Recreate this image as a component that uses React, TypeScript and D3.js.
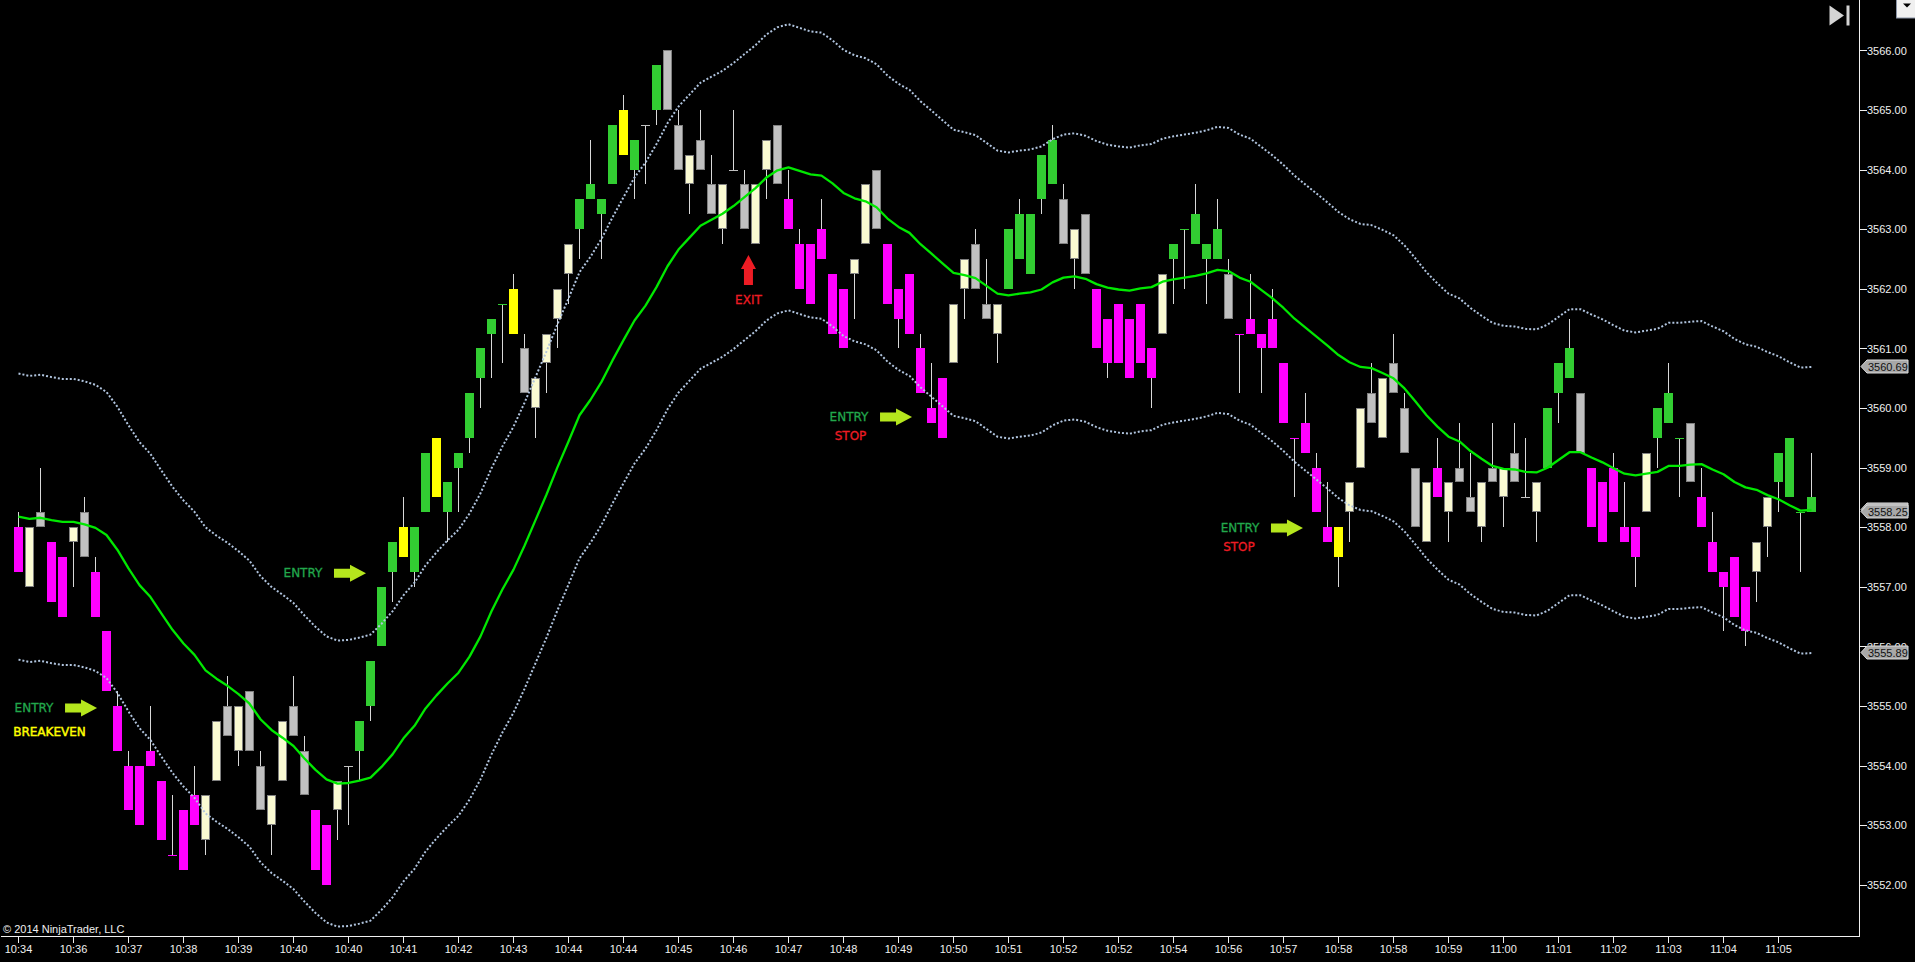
import React from "react";
import * as d3 from "d3";

const bodyTop = [
3558,3558,3558.25,3557.75,3557.5,3558,3558.25,3557.25,3556.25,3555,
3554,3554,3554.25,3553.75,3552.5,3553.25,3553.5,3553.5,3554.75,3555,
3555,3555.25,3554,3553.5,3554.75,3555,3554.25,3553.25,3553,3553.75,
3554,3554.75,3555.75,3557,3557.75,3558,3558,3559.25,3559.5,3558.75,
3559.25,3560.25,3561,3561.5,3561.75,3562,3561,3560.5,3561.25,3562,
3562.75,3563.5,3563.75,3563.5,3564.75,3565,3564.5,3564.75,3565.75,3566,
3564.75,3564.25,3564.5,3563.75,3563.75,3564,3563.75,3563.75,3564.5,3564.75,
3563.5,3562.75,3562.75,3563,3562.25,3562,3562.5,3563.75,3564,3562.75,
3562,3562.25,3561,3560,3560.5,3561.75,3562.5,3562.75,3561.75,3561.75,
3563,3563.25,3563.25,3564.25,3564.5,3563.5,3563,3563.25,3562,3561.5,
3561.75,3561.5,3561.75,3561,3562.25,3562.75,3563,3563.25,3562.75,3563,
3562.25,3561.25,3561.5,3561.25,3561.5,3560.75,3559.5,3559.75,3559,3558,
3558,3558.75,3560,3560.25,3560.5,3560.75,3560,3559,3558.75,3559,
3558.75,3559,3558.5,3558.75,3559,3559,3559.25,3558.5,3558.75,3560,
3560.75,3561,3560.25,3559,3558.75,3559,3558,3558,3559.25,3560,
3560.25,3559.5,3559.75,3558.5,3557.75,3557.25,3557.5,3557,3557.75,3558.5,
3559.25,3559.5,3558.25,3558.5];

const bodyBottom = [
3557.25,3557,3558,3556.75,3556.5,3557.75,3557.5,3556.5,3555.25,3554.25,
3553.25,3553,3554,3552.75,3552.5,3552.25,3553,3552.75,3553.75,3554.5,
3554.25,3554.25,3553.25,3553,3553.75,3554.5,3553.5,3552.25,3552,3553.25,
3554,3554.25,3555,3556,3557.25,3557.5,3557.25,3558.25,3558.5,3558.25,
3559,3559.5,3560.5,3561.25,3561.75,3561.25,3560.25,3560,3560.75,3561.5,
3562.25,3563,3563.5,3563.25,3563.75,3564.25,3564,3564.75,3565,3565,
3564,3563.75,3564,3563.25,3563,3564,3563,3562.75,3564,3563.75,
3563,3562,3561.75,3562.5,3561.25,3561,3562.25,3562.75,3563,3561.75,
3561.5,3561.25,3560.25,3559.75,3559.5,3560.75,3562,3562,3561.5,3561.25,
3562,3562.5,3562.25,3563.5,3563.75,3562.75,3562.5,3562.25,3561,3560.75,
3560.75,3560.5,3560.75,3560.5,3561.25,3562.5,3563,3562.75,3562.5,3562.5,
3561.5,3561.25,3561.25,3561,3561,3559.75,3559.5,3559.25,3558.25,3557.75,
3557.5,3558.25,3559,3559.75,3559.5,3560.25,3559.25,3558,3557.75,3558.5,
3558.25,3558.75,3558.25,3558,3558.75,3558.5,3558.75,3558.5,3558.25,3559,
3560.25,3560.5,3559.25,3558,3557.75,3558.25,3557.75,3557.5,3558.25,3559.5,
3559.75,3559.5,3558.75,3558,3557.25,3557,3556.5,3556.25,3557.25,3558,
3558.75,3558.5,3558.25,3558.25];

const wickHigh = [
3558.25,3558,3559,3557.75,3557.5,3558,3558.5,3557.5,3556.25,3555.25,
3554.25,3554,3555,3553.75,3553.5,3553.25,3554,3553.5,3554.75,3555.5,
3555,3555.25,3554.25,3553.5,3554.75,3555.5,3554.5,3553.25,3553,3553.75,
3554,3554.75,3555.75,3557,3557.75,3558.5,3558,3559.25,3559.5,3558.75,
3559.25,3560.25,3561,3561.5,3561.75,3562.25,3561.25,3560.5,3561.25,3562,
3562.75,3563.5,3564.5,3563.5,3564.75,3565.25,3564.5,3564.75,3565.75,3566,
3565,3564.25,3565,3564.25,3563.75,3565,3564,3563.75,3564.5,3564.75,
3564,3563,3562.75,3563.5,3562.25,3562,3562.5,3563.75,3564,3562.75,
3562,3562.25,3561.25,3560.75,3560.5,3561.75,3562.5,3563,3562.5,3561.75,
3563,3563.5,3563.25,3564.25,3564.75,3563.75,3563,3563.25,3562,3561.5,
3561.75,3561.5,3561.75,3561,3562.25,3562.75,3563,3563.75,3562.75,3563.5,
3562.5,3561.25,3562.25,3561.25,3562,3560.75,3559.5,3560.25,3559.25,3558.75,
3558,3558.75,3560,3560.75,3560.5,3561.25,3560.25,3559,3558.75,3559.5,
3558.75,3559.75,3559.25,3558.75,3559.75,3559,3559.75,3559.5,3558.75,3560,
3560.75,3561.5,3560.25,3559,3558.75,3559.25,3558.75,3558,3559.25,3560,
3560.75,3559.5,3559.75,3559,3558.25,3557.25,3557.5,3557,3557.75,3558.5,
3559.25,3559.5,3558.25,3559.25];

const wickLow = [
3557.25,3557,3558,3556.75,3556.5,3557,3557.5,3556.5,3555.25,3554.25,
3553.25,3553,3554,3552.75,3552.5,3552.25,3553,3552.5,3553.75,3554.5,
3554,3554.25,3553.25,3552.5,3553.75,3554.5,3553.5,3552.25,3552,3552.75,
3553,3553.75,3554.75,3556,3556.75,3557.5,3557,3558.25,3558.5,3557.75,
3558.25,3559.25,3560,3560.5,3560.75,3561.25,3560.25,3559.5,3560.25,3561,
3561.75,3562.5,3563.5,3562.5,3563.75,3564.25,3563.5,3563.75,3564.75,3565,
3564,3563.25,3564,3563.25,3562.75,3564,3563,3562.75,3563.5,3563.75,
3563,3562,3561.75,3562.5,3561.25,3561,3561.5,3562.75,3563,3561.75,
3561,3561.25,3560.25,3559.75,3559.5,3560.75,3561.5,3562,3561.5,3560.75,
3562,3562.5,3562.25,3563.25,3563.75,3562.75,3562,3562.25,3561,3560.5,
3560.75,3560.5,3560.75,3560,3561.25,3561.75,3562,3562.75,3561.75,3562.5,
3561.5,3560.25,3561.25,3560.25,3561,3559.75,3558.5,3559.25,3558.25,3557.75,
3557,3557.75,3559,3559.75,3559.5,3560.25,3559.25,3558,3557.75,3558.5,
3557.75,3558.75,3558.25,3557.75,3558.75,3558,3558.75,3558.5,3557.75,3559,
3559.75,3560.5,3559.25,3558,3557.75,3558.25,3557.75,3557,3558.25,3559,
3559.75,3558.5,3558.75,3558,3557.25,3556.25,3556.5,3556,3556.75,3557.5,
3558.25,3558.5,3557.25,3558.25];

// m magenta, c cream, g green, y yellow, s silver
const barKinds = [
"mcsmmcsmmm","mmmmmmmccs","cssccssmmc","sggggyggyg","gggggysccc",
"cggggygsgs","scsscssccs","mmmmmmccsm","mmmmmccssc","gggggscsmm",
"mmmmcggggg","smmmmmmmmm","yccscssscm","csscscsscg","ggsmmmmmcg",
"ggsmmmmmcc","gggg"].join("");

const midLine = [
3558.18,3558.14,3558.16,3558.12,3558.09,3558.09,3558.05,3557.99,3557.87,3557.62,
3557.31,3557.03,3556.83,3556.55,3556.28,3556.05,3555.86,3555.60,3555.46,3555.34,
3555.20,3555.04,3554.78,3554.60,3554.47,3554.33,3554.12,3553.93,3553.77,3553.70,
3553.71,3553.75,3553.80,3553.98,3554.19,3554.46,3554.67,3554.96,3555.18,3555.38,
3555.56,3555.83,3556.17,3556.59,3556.96,3557.29,3557.69,3558.12,3558.55,3559.01,
3559.44,3559.88,3560.14,3560.44,3560.80,3561.14,3561.47,3561.72,3562.03,3562.38,
3562.66,3562.86,3563.06,3563.16,3563.26,3563.39,3563.54,3563.69,3563.87,3563.99,
3564.04,3563.98,3563.92,3563.90,3563.77,3563.61,3563.52,3563.47,3563.37,3563.18,
3563.04,3562.94,3562.75,3562.59,3562.43,3562.27,3562.23,3562.18,3562.05,3561.92,
3561.89,3561.92,3561.94,3561.99,3562.11,3562.19,3562.21,3562.17,3562.08,3562.02,
3561.99,3561.97,3562.01,3562.03,3562.12,3562.16,3562.19,3562.22,3562.26,3562.32,
3562.30,3562.19,3562.12,3561.98,3561.84,3561.68,3561.50,3561.35,3561.20,3561.05,
3560.89,3560.77,3560.69,3560.67,3560.59,3560.50,3560.33,3560.11,3559.88,3559.69,
3559.52,3559.44,3559.28,3559.15,3559.03,3558.98,3558.97,3558.93,3558.92,3559.00,
3559.13,3559.26,3559.26,3559.17,3559.09,3558.99,3558.90,3558.87,3558.90,3558.93,
3559.03,3559.03,3559.05,3559.06,3558.97,3558.89,3558.76,3558.67,3558.63,3558.54,
3558.47,3558.37,3558.28,3558.29];

const upperBand = [
3560.58,3560.54,3560.56,3560.52,3560.49,3560.49,3560.45,3560.39,3560.27,3560.02,
3559.71,3559.43,3559.23,3558.95,3558.68,3558.45,3558.26,3558.00,3557.86,3557.74,
3557.60,3557.44,3557.18,3557.00,3556.87,3556.73,3556.52,3556.33,3556.17,3556.10,
3556.11,3556.15,3556.20,3556.38,3556.59,3556.86,3557.07,3557.36,3557.58,3557.78,
3557.96,3558.23,3558.57,3558.99,3559.36,3559.69,3560.09,3560.52,3560.95,3561.41,
3561.84,3562.28,3562.54,3562.84,3563.20,3563.54,3563.87,3564.12,3564.43,3564.78,
3565.06,3565.26,3565.46,3565.56,3565.66,3565.79,3565.94,3566.09,3566.27,3566.39,
3566.44,3566.38,3566.32,3566.30,3566.17,3566.01,3565.92,3565.87,3565.77,3565.58,
3565.44,3565.34,3565.15,3564.99,3564.83,3564.67,3564.63,3564.58,3564.45,3564.32,
3564.29,3564.32,3564.34,3564.39,3564.51,3564.59,3564.61,3564.57,3564.48,3564.42,
3564.39,3564.37,3564.41,3564.43,3564.52,3564.56,3564.59,3564.62,3564.66,3564.72,
3564.70,3564.59,3564.52,3564.38,3564.24,3564.08,3563.90,3563.75,3563.60,3563.45,
3563.29,3563.17,3563.09,3563.07,3562.99,3562.90,3562.73,3562.51,3562.28,3562.09,
3561.92,3561.84,3561.68,3561.55,3561.43,3561.38,3561.37,3561.33,3561.32,3561.40,
3561.53,3561.66,3561.66,3561.57,3561.49,3561.39,3561.30,3561.27,3561.30,3561.33,
3561.43,3561.43,3561.45,3561.46,3561.37,3561.29,3561.16,3561.07,3561.03,3560.94,
3560.87,3560.77,3560.68,3560.69];

const lowerBand = [
3555.78,3555.74,3555.76,3555.72,3555.69,3555.69,3555.65,3555.59,3555.47,3555.22,
3554.91,3554.63,3554.43,3554.15,3553.88,3553.65,3553.46,3553.20,3553.06,3552.94,
3552.80,3552.64,3552.38,3552.20,3552.07,3551.93,3551.72,3551.53,3551.37,3551.30,
3551.31,3551.35,3551.40,3551.58,3551.79,3552.06,3552.27,3552.56,3552.78,3552.98,
3553.16,3553.43,3553.77,3554.19,3554.56,3554.89,3555.29,3555.72,3556.15,3556.61,
3557.04,3557.48,3557.74,3558.04,3558.40,3558.74,3559.07,3559.32,3559.63,3559.98,
3560.26,3560.46,3560.66,3560.76,3560.86,3560.99,3561.14,3561.29,3561.47,3561.59,
3561.64,3561.58,3561.52,3561.50,3561.37,3561.21,3561.12,3561.07,3560.97,3560.78,
3560.64,3560.54,3560.35,3560.19,3560.03,3559.87,3559.83,3559.78,3559.65,3559.52,
3559.49,3559.52,3559.54,3559.59,3559.71,3559.79,3559.81,3559.77,3559.68,3559.62,
3559.59,3559.57,3559.61,3559.63,3559.72,3559.76,3559.79,3559.82,3559.86,3559.92,
3559.90,3559.79,3559.72,3559.58,3559.44,3559.28,3559.10,3558.95,3558.80,3558.65,
3558.49,3558.37,3558.29,3558.27,3558.19,3558.10,3557.93,3557.71,3557.48,3557.29,
3557.12,3557.04,3556.88,3556.75,3556.63,3556.58,3556.57,3556.53,3556.52,3556.60,
3556.73,3556.86,3556.86,3556.77,3556.69,3556.59,3556.50,3556.47,3556.50,3556.53,
3556.63,3556.63,3556.65,3556.66,3556.57,3556.49,3556.36,3556.27,3556.23,3556.14,
3556.07,3555.97,3555.88,3555.89];

const timeLabels = [
"10:34","10:36","10:37","10:38","10:39","10:40","10:40","10:41","10:42","10:43","10:44",
"10:44","10:45","10:46","10:47","10:48","10:49","10:50","10:51","10:52","10:52","10:54",
"10:56","10:57","10:58","10:58","10:59","11:00","11:01","11:02","11:03","11:04","11:05"];
const priceTicks = [3552,3553,3554,3555,3556,3557,3558,3559,3560,3561,3562,3563,3564,3565,3566];
const priceMarkers = [3560.69,3558.29,3558.25,3555.89];

const arrowPrices = [3554.97,3557.23,3559.85,3557.99];
const arrowBars = [7.14,31.59,81.23,116.77];
const noteLabels = ["ENTRY","BREAKEVEN","ENTRY","ENTRY","STOP","ENTRY","STOP","EXIT"];
const noteBars = [1.41,2.82,25.86,75.5,75.64,111.05,110.95,66.36];
const notePrices = [3554.97,3554.57,3557.23,3559.85,3559.53,3557.99,3557.67,3561.81];
const noteColors: Record<string,string> = { ENTRY:"#22a84c", BREAKEVEN:"#ffff00", STOP:"#ed1c24", EXIT:"#ed1c24" };
const exitArrow = { bar: 66.36, price: 3562.57 };

const fillOf: Record<string,string> = { m:"#ff00ff", c:"#fafad2", g:"#32cd32", y:"#ffff00", s:"#c0c0c0" };
const edgeOf: Record<string,string> = { m:"#ff00ff", c:"#808080", g:"#32cd32", y:"#ffff00", s:"#808080" };
const dojiOf: Record<string,string> = { m:"#ff00ff", c:"#c0c0c0", g:"#32cd32", y:"#ffff00", s:"#c0c0c0" };

const W = 1915, H = 962;
const axisX = 1859.5, axisY = 936.5;
const x = d3.scaleLinear().domain([0, 163]).range([18.5, 1811.5]);
const y = d3.scaleLinear().domain([3552, 3566]).range([884.9, 50.5]);
const py = (p: number) => Math.round(y(p) - 0.1);

const axisFont = "'Liberation Sans', Arial, sans-serif";
const noteFont = "'DejaVu Sans', Verdana, sans-serif";

export default function App() {
  const bars = d3.range(bodyTop.length);
  const line = d3.line<number>().x((_, i) => x(i)).y((d) => y(d));
  return (
    <svg width={W} height={H} viewBox={`0 0 ${W} ${H}`}
      style={{ position: "fixed", left: 0, top: 0, background: "#000", display: "block" }}>
      <rect x={0} y={0} width={W} height={H} fill="#000" />

      {/* candles */}
      <g shapeRendering="crispEdges">
        {bars.map((i) => (
          <line key={"w" + i} x1={x(i)} x2={x(i)} y1={py(wickHigh[i])} y2={py(wickLow[i])} stroke="#d8d8d8" strokeWidth={1} />
        ))}
        {bars.map((i) => {
          const k = barKinds[i];
          const t = py(bodyTop[i]), b = py(bodyBottom[i]);
          if (t === b) {
            return <line key={"b" + i} x1={x(i) - 4.5} x2={x(i) + 4.5} y1={t + 0.5} y2={t + 0.5} stroke={dojiOf[k]} strokeWidth={1} />;
          }
          return <rect key={"b" + i} x={x(i) - 4} y={t + 0.5} width={8} height={b - t - 1} fill={fillOf[k]} stroke={edgeOf[k]} strokeWidth={1} />;
        })}
      </g>

      {/* indicator */}
      <path d={line(upperBand) ?? ""} fill="none" stroke="#b0c4de" strokeWidth={2} strokeDasharray="2 2" />
      <path d={line(lowerBand) ?? ""} fill="none" stroke="#b0c4de" strokeWidth={2} strokeDasharray="2 2" />
      <path d={line(midLine) ?? ""} fill="none" stroke="#00e800" strokeWidth={2.3} strokeLinejoin="round" />

      {/* annotations */}
      {arrowBars.map((b, i) => {
        const tx = x(b), cy = y(arrowPrices[i]);
        return (
          <polygon key={"a" + i} fill="#b5e61d"
            points={[[tx - 32, cy - 4.5], [tx - 16, cy - 4.5], [tx - 16, cy - 8.5], [tx, cy], [tx - 16, cy + 8.5], [tx - 16, cy + 4.5], [tx - 32, cy + 4.5]].map((p) => p.join(",")).join(" ")} />
        );
      })}
      <polygon fill="#ed1c24"
        points={(() => {
          const cx = x(exitArrow.bar), t = y(exitArrow.price);
          return [[cx, t], [cx + 7.5, t + 14], [cx + 4.5, t + 14], [cx + 4.5, t + 30], [cx - 4.5, t + 30], [cx - 4.5, t + 14], [cx - 7.5, t + 14]].map((p) => p.join(",")).join(" ");
        })()} />
      {noteLabels.map((label, i) => (
        <text key={"n" + i} x={x(noteBars[i])} y={y(notePrices[i])} textAnchor="middle" dominantBaseline="central"
          fontFamily={noteFont} fontSize={12} fontWeight={400}
          fill={noteColors[label]} stroke={noteColors[label]} strokeWidth={label === "BREAKEVEN" ? 0.45 : 0.3}>{label}</text>
      ))}

      {/* axes */}
      <g shapeRendering="crispEdges" stroke="#f0f0f0" strokeWidth={1}>
        <line x1={axisX} x2={axisX} y1={0} y2={axisY} />
        <line x1={1} x2={axisX} y1={axisY} y2={axisY} />
        {timeLabels.map((_, k) => (
          <line key={"xt" + k} x1={x(k * 5)} x2={x(k * 5)} y1={axisY} y2={axisY + 6} />
        ))}
        {priceTicks.map((p) => (
          <line key={"yt" + p} x1={axisX} x2={axisX + 7} y1={py(p) + 0.5} y2={py(p) + 0.5} />
        ))}
      </g>
      <g fontFamily={axisFont} fontSize={11} fill="#f0f0f0">
        {timeLabels.map((t, k) => (
          <text key={"xl" + k} x={x(k * 5)} y={953} textAnchor="middle">{t}</text>
        ))}
        {priceTicks.map((p) => (
          <text key={"yl" + p} x={1867} y={y(p)} dominantBaseline="central">{p.toFixed(2)}</text>
        ))}
        <text x={3} y={933}>© 2014 NinjaTrader, LLC</text>
      </g>

      {/* price markers */}
      {priceMarkers.map((p) => {
        const c = py(p) - 0.5;
        return (
          <g key={"m" + p}>
            <polygon fill="#a8a8a8" stroke="#dcdcdc" strokeWidth={1}
              points={[[1861, c], [1867, c - 6.5], [1908, c - 6.5], [1908, c + 6.5], [1867, c + 6.5]].map((q) => q.join(",")).join(" ")} />
            <text x={1868} y={c} dominantBaseline="central" fontFamily={axisFont} fontSize={11} fill="#111">{p.toFixed(2)}</text>
          </g>
        );
      })}

      {/* chart controls */}
      <polygon fill="#d4d4d4" points="1829.5,5.5 1844,15.5 1829.5,25.5" />
      <rect x={1846.5} y={5.5} width={3} height={20} fill="#d4d4d4" />
      <rect x={1896.5} y={-1} width={19} height={19} fill="#f0f0f0" stroke="#8a94a6" strokeWidth={1} />
      <polygon fill="#000" points="1903,3.5 1911,3.5 1907,7.5" />
    </svg>
  );
}
